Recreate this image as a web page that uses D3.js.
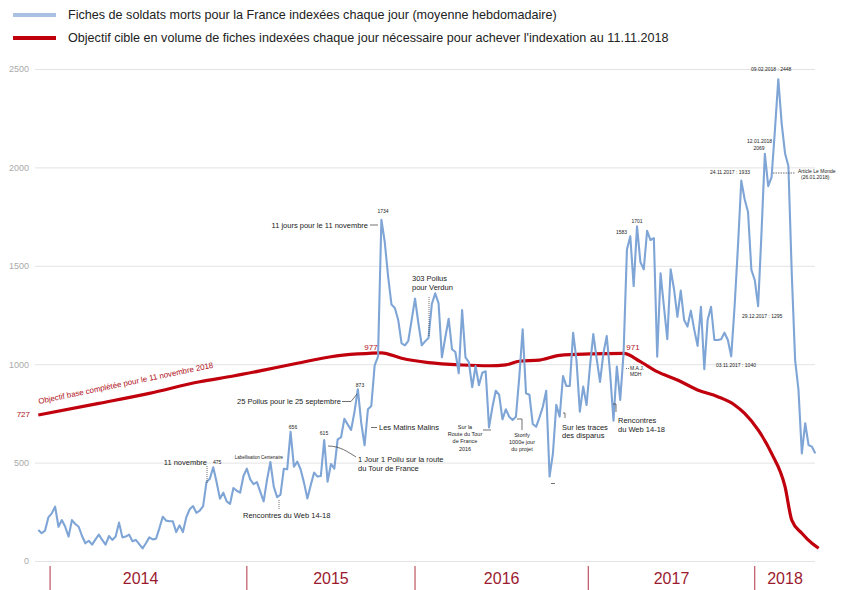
<!DOCTYPE html>
<html><head><meta charset="utf-8">
<script src="https://cdn.jsdelivr.net/npm/d3@7/dist/d3.min.js"></script>
<style>
html,body{margin:0;padding:0;background:#fff;}
svg{display:block;font-family:"Liberation Sans",Arial,sans-serif;}
</style></head>
<body><svg id="chart" width="841" height="590"></svg>
<script>
// ---------- DATA ----------
const weeklyValues = [
157,141,154,222,242,276,174,208,174,124,
208,188,174,127,90,103,83,110,134,107,
83,127,107,124,195,120,124,134,100,107,
86,64,90,120,110,113,166,225,205,202,
202,147,181,147,222,263,279,245,256,279,
401,418,476,401,317,347,303,290,371,357,
347,432,469,415,391,401,351,303,412,503,
378,324,337,469,466,656,
479,505,465,397,318,386,449,429,432,615,
403,493,469,618,628,723,693,666,757,873,
703,588,771,788,994,1038,1734,1621,1445,1303,
1286,1225,1106,1096,1119,1225,1333,1208,1096,1116,
1133,1306,1360,1309,1035,1137,1231,1076,1062,954,
1275,1035,1011,883,991,893,957,964,679,781,
865,845,720,771,733,716,733,936,1177,852,
845,696,682,730,784,865,429,547,794,733,
940,889,889,1160,1021,759,886,793,988,1153,
1028,910,1055,1143,954,713,988,818,1055,1583,
1650,1397,1701,1519,1482,1678,1631,1641,1038,1462,
1292,1127,1482,1381,1241,1374,1225,1191,1272,1177,
1093,1292,975,1225,1292,1123,1123,1127,1160,1123,
1040,1292,1597,1933,1838,1773,1479,1428,1295,1665,
2069,1905,1950,2190,2448,2224,2072,2007,1462,1021,
869,547,700,589,581,547];

const targetWeeks  = [0,18,33,48,58,67,77,87,95,102,108,116,126,134,139,143,149,155,164,174,179,184,190,196,202,207,210,214,218,222,224,227,230,232];
const targetValues = [742,801,852,911,940,970,1005,1038,1052,1058,1030,1008,996,992,997,1015,1021,1045,1052,1055,1013,962,920,869,835,793,750,666,547,378,208,141,90,65];

const yTicks = [0,500,1000,1500,2000,2500];
const years = ["2014","2015","2016","2017","2018"];
const yearStartWeeks = [3.5,62,112,163.5,213];
const lastWeek = 231;

const legendLabels = [
  "Fiches de soldats morts pour la France indexées chaque jour (moyenne hebdomadaire)",
  "Objectif cible en volume de fiches indexées chaque jour nécessaire pour achever l'indexation au 11.11.2018"
];

// ---------- SETUP ----------
const svg = d3.select("#chart");
const BLUE = "#7ea5d6", RED = "#c0000c", DARKRED = "#9b1b30";
const x = d3.scaleLinear().domain([0, lastWeek]).range([38.3, 815.3]);
const y = d3.scaleLinear().domain([0, 2500]).range([561, 69]);

// gridlines + y labels
const yAxis = d3.axisLeft(y).tickValues(yTicks).tickSize(-780).tickPadding(6).tickFormat(d3.format("d"));
const gy = svg.append("g").attr("transform","translate(35,0)").call(yAxis);
gy.select(".domain").remove();
gy.selectAll(".tick line").attr("stroke","#e3e3e3").attr("stroke-width",1);
gy.selectAll(".tick text").attr("fill","#aaa").attr("font-size",9)
  .attr("font-family","'Liberation Sans Narrow','Liberation Sans',Arial,sans-serif");

// year bands
const yearG = svg.append("g");
yearStartWeeks.forEach(w=>{
  yearG.append("line").attr("x1",x(w)).attr("x2",x(w)).attr("y1",566).attr("y2",590)
    .attr("stroke","#b23345").attr("stroke-width",1);
});
years.forEach((yr,i)=>{
  const a = yearStartWeeks[i];
  const b = i < years.length-1 ? yearStartWeeks[i+1] : lastWeek;
  const cx = i === 0 ? x(a) + (x(b)-x(a))*0.46 : x((a+b)/2);
  yearG.append("text").attr("x",cx).attr("y",583.5).attr("text-anchor","middle")
    .attr("font-size",16).attr("fill",DARKRED).attr("font-family","'Liberation Sans Narrow','Liberation Sans',Arial,sans-serif")
    .text(yr);
});

// target line
const targetData = targetWeeks.map((w,i)=>({w, v: targetValues[i]}));
svg.append("path").datum(targetData)
  .attr("d", d3.line().x(d=>x(d.w)).y(d=>y(d.v)).curve(d3.curveMonotoneX))
  .attr("fill","none").attr("stroke",RED).attr("stroke-width",3.2).attr("stroke-linejoin","round");

// weekly line
svg.append("path").datum(weeklyValues)
  .attr("d", d3.line().x((d,i)=>x(i)).y(d=>y(d)))
  .attr("fill","none").attr("stroke",BLUE).attr("stroke-width",2.1).attr("stroke-linejoin","round");

// legend
[[BLUE,"#a9c2e4"],[RED,RED]].forEach((c,i)=>{
  const ly = 15 + i*23;
  svg.append("line").attr("x1",13).attr("x2",56).attr("y1",ly).attr("y2",ly)
    .attr("stroke",c[1]).attr("stroke-width",4);
  svg.append("text").attr("x",68).attr("y",ly+4.4).attr("font-size",12.6).attr("fill","#222")
    .text(legendLabels[i]);
});

// ---------- ANNOTATIONS ----------
function t(xp, yp, str, size, anchor, fill, weight){
  svg.append("text").attr("x",xp).attr("y",yp+size*0.35).attr("font-size",size)
    .attr("text-anchor",anchor||"start").attr("fill",fill||"#222")
    .attr("font-weight",weight||"normal").text(str);
}
function p(d, dash){
  svg.append("path").attr("d",d).attr("fill","none").attr("stroke","#333")
    .attr("stroke-width",0.7).attr("stroke-dasharray",dash||null);
}
// red labels
t(30,414.5,"727",8,"end","#b0101a");
t(371,347,"977",8,"middle","#b0101a");
t(633,347.5,"971",8,"middle","#b0101a");
svg.append("text").attr("transform","translate(39,404) rotate(-11.8)")
  .attr("font-size",7.9).attr("fill","#b0101a").text("Objectif base complétée pour le 11 novembre 2018");

t(207,462,"11 novembre",7.5,"end");
t(213,462,"475",5,"start");
p("M207,466 V483","1,1");
t(259,457.5,"Labellisation Centenaire",4.5,"middle");
t(293,427,"656",5,"middle");
t(243,515.5,"Rencontres du Web 14-18",7.5,"start");
p("M279,500 V510","1,1");
t(237,401.5,"25 Poilus pour le 25 septembre",7.5,"start");
p("M342,401.5 H351 L357,394");
t(360,385,"873",5,"middle");
t(324,433,"615",5,"middle");
p("M328,446 C340,446 348,452 356,457");
t(358,459.5,"1 Jour 1 Poilu sur la route",7.5,"start");
t(358,468.5,"du Tour de France",7.5,"start");
p("M371,427.5 H377");
t(379,427.5,"Les Matins Malins",7.5,"start");
t(368,225,"11 jours pour le 11 novembre",7.5,"end");
p("M370,225 H378");
t(383,211,"1734",5,"middle");
t(412,278,"303 Poilus",7.5,"start");
t(412,287.5,"pour Verdun",7.5,"start");
p("M429,297 V337","1,1");
["Sur la","Route du Tour","de France","2016"].forEach((s,i)=>t(465,427+i*7.2,s,5.5,"middle"));
p("M483,430 H491");
["Storify","1000e jour","du projet"].forEach((s,i)=>t(522,435+i*7,s,5.5,"middle"));
p("M517,419 H522 V430");
p("M551,483.5 H555");
t(562,427,"Sur les traces",7.5,"start");
t(562,435.5,"des disparus",7.5,"start");
p("M563,413 H565 V418");
t(618,420,"Rencontres",7.5,"start");
t(618,429,"du Web 14-18",7.5,"start");
p("M613,404 H616 V412");
p("M626,368.5 H629","1,1");
t(630,368.5,"M.A.J.",5,"start");
t(630,374.5,"MDH",5,"start");
t(627,232,"1583",5,"end");
t(637,221.5,"1701",5,"middle");
t(716,365,"03.11.2017 : 1040",5,"start");
t(742,316.5,"29.12.2017 : 1295",5,"start");
t(710,172.5,"24.11.2017 : 1933",5,"start");
t(747,141.5,"12.01.2018",5,"start");
t(759,148.5,"2069",5,"middle");
t(751,69.5,"09.02.2018 : 2448",5,"start");
p("M773,173 H795","1.5,1");
t(798,171,"Article Le Monde",5,"start");
t(801,177.5,"(26.01.2018)",5,"start");
</script></body></html>
